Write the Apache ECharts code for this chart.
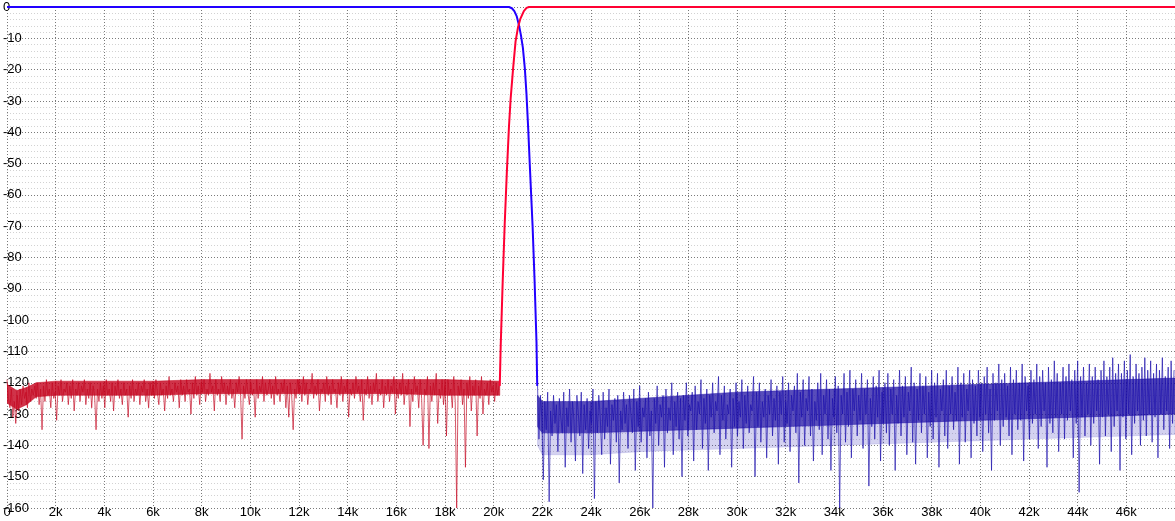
<!DOCTYPE html>
<html>
<head>
<meta charset="utf-8">
<script src="https://cdn.jsdelivr.net/npm/echarts@6/dist/echarts.min.js"></script>
<style>
html,body{margin:0;padding:0;background:#fff;}
#chart{width:1175px;height:521px;}
</style>
</head>
<body>
<div id="chart"></div>
<script>
// ---- axis ----
const xMin = 0, xMax = 48000, xStep = 2000;
const yMin = -160, yMax = 0, yStep = 10;
const kiloSuffix = 'k';

// ---- low-pass (blue) passband + transition: [Hz, dB] ----
const blueFreq = [0, 20630, 20750, 20850, 20950, 21040, 21120, 21200, 21280, 21350, 21420, 21500, 21600, 21680, 21760, 21790];
const blueDb   = [0, 0, -0.4, -1.3, -3, -5.8, -9, -13, -19.5, -28, -39, -53, -70, -87, -107, -121];

// ---- high-pass (red) transition + passband: [Hz, dB] ----
const redFreq = [20250, 20290, 20370, 20450, 20540, 20630, 20700, 20800, 20900, 21000, 21100, 21240, 21350, 21450, 48000];
const redDb   = [-121, -108, -88, -70, -53, -38, -29, -19.5, -11, -6.5, -3.7, -1.3, -0.3, 0, 0];

// ---- dense core of each noise floor (envelopes) ----
const redBandFreq  = [0, 400, 800, 1200, 2000, 4000, 6000, 8000, 10000, 12000, 14000, 16000, 18000, 20250];
const redBandTop   = [-120.5, -122.5, -121.5, -120, -119.5, -119.5, -119.5, -119, -119, -119, -119, -119, -119, -119.5];
const redBandBot   = [-126.5, -128.5, -127, -124.5, -124, -124, -124, -123.5, -123.5, -123.5, -123.5, -123.5, -124, -124];

const blueBandFreq  = [21800, 22000, 24000, 26000, 28000, 30000, 32000, 34000, 36000, 38000, 40000, 42000, 44000, 46000, 48000];
const blueBandTop   = [-124, -126, -126, -125, -124, -123, -122.5, -122, -121.5, -121, -120.5, -120, -119.5, -119, -118.5];
const blueBandBot   = [-134, -136, -136, -135.5, -135, -134.5, -134, -133.5, -133, -132.5, -132, -131.5, -131, -130.5, -130];
// lighter spike-filled zone below the blue core
const blueFringeBot = [-140, -143, -143, -142, -141.5, -141, -140.5, -140, -139.5, -139, -138.5, -138, -137.5, -137, -136.5];

const noiseStep = 60;
const redNoiseStart = 0;
const redNoiseDb = [
-119,-125,-128,-122,-131,-126,-133,-124,-129,-122,-127,-121,-125,-123,-128,-120,-126,-122,-124,-121,
-125,-120,-127,-122,-135,-121,-126,-119,-124,-122,-128,-120,-125,-123,-132,-121,-124,-119,-126,-122,
-123,-120,-127,-121,-125,-119,-129,-122,-124,-120,-126,-121,-123,-119,-127,-122,-125,-120,-128,-121,
-124,-135,-122,-126,-120,-125,-121,-128,-119,-124,-122,-126,-120,-129,-121,-124,-119,-125,-122,-127,
-120,-124,-122,-131,-121,-125,-119,-126,-122,-124,-120,-127,-121,-123,-119,-126,-122,-128,-120,-124,
-121,-125,-119,-123,-127,-120,-124,-122,-129,-121,-125,-118,-124,-122,-126,-120,-123,-121,-128,-119,
-124,-121,-126,-119,-123,-122,-130,-120,-125,-118,-124,-121,-127,-120,-123,-119,-126,-122,-124,-117,
-123,-121,-129,-119,-124,-122,-126,-118,-123,-120,-127,-121,-124,-119,-125,-122,-128,-120,-123,-118,
-124,-138,-121,-125,-119,-123,-127,-120,-124,-122,-131,-119,-125,-121,-123,-118,-126,-120,-124,-122,
-119,-125,-121,-127,-118,-124,-122,-126,-120,-123,-119,-128,-121,-131,-120,-124,-135,-122,-125,-119,
-123,-121,-126,-118,-124,-120,-127,-122,-123,-117,-125,-121,-124,-119,-129,-122,-123,-120,-126,-118,
-124,-121,-127,-119,-123,-122,-128,-120,-124,-118,-126,-121,-123,-119,-131,-122,-124,-120,-125,-118,
-123,-121,-126,-119,-132,-122,-124,-118,-125,-121,-127,-120,-123,-117,-126,-122,-124,-119,-128,-121,
-124,-119,-126,-121,-123,-118,-130,-122,-125,-120,-124,-117,-127,-121,-124,-119,-134,-122,-126,-118,
-123,-121,-128,-119,-125,-140,-122,-124,-118,-141,-121,-126,-120,-124,-117,-133,-122,-125,-119,-127,
-121,-137,-119,-124,-122,-128,-118,-126,-160,-121,-124,-119,-127,-122,-147,-120,-125,-118,-129,-121,
-124,-119,-137,-121,-125,-118,-130,-122,-124,-120,-127,-119,-123,-121,-126,-120,-124,-121
];
const blueNoiseStart = 21800;
const blueNoiseDb = [
-120,-138,-124,-131,-151,-126,-135,-123,-158,-129,-137,-124,-133,-127,-142,-125,-131,-136,-123,-147,
-128,-134,-122,-139,-126,-132,-145,-124,-130,-137,-123,-149,-127,-135,-125,-141,-129,-133,-122,-157,
-126,-136,-124,-131,-143,-123,-138,-128,-134,-122,-146,-127,-132,-125,-139,-124,-152,-129,-135,-123,
-133,-127,-141,-124,-130,-136,-122,-148,-126,-134,-121,-139,-128,-131,-125,-144,-123,-137,-129,-160,
-125,-133,-121,-140,-127,-131,-124,-147,-122,-136,-128,-132,-120,-143,-126,-134,-123,-138,-125,-150,
-124,-132,-120,-137,-127,-129,-123,-145,-121,-135,-126,-130,-119,-141,-125,-133,-122,-148,-124,-131,
-120,-136,-126,-129,-118,-143,-124,-132,-121,-138,-127,-130,-122,-147,-125,-134,-120,-137,-126,-131,
-119,-141,-124,-133,-121,-136,-127,-129,-118,-150,-123,-134,-120,-139,-126,-131,-122,-144,-124,-130,
-119,-137,-125,-132,-121,-146,-123,-130,-118,-139,-126,-133,-120,-142,-124,-129,-121,-136,-117,-152,
-123,-131,-119,-140,-125,-129,-118,-137,-122,-145,-126,-132,-120,-135,-117,-143,-124,-130,-119,-138,
-122,-148,-125,-131,-118,-136,-121,-160,-124,-130,-117,-139,-123,-134,-116,-144,-122,-129,-119,-137,
-124,-132,-117,-141,-122,-130,-119,-153,-125,-134,-118,-138,-121,-131,-116,-145,-123,-133,-120,-136,
-117,-140,-122,-130,-119,-148,-124,-133,-116,-137,-121,-131,-118,-143,-123,-129,-115,-139,-120,-146,
-122,-132,-117,-136,-121,-130,-118,-144,-123,-134,-116,-138,-120,-131,-117,-147,-122,-129,-119,-137,
-116,-141,-121,-130,-118,-135,-123,-132,-115,-146,-120,-131,-117,-139,-122,-129,-116,-144,-119,-133,
-121,-137,-116,-131,-120,-142,-118,-130,-115,-136,-122,-148,-117,-132,-120,-129,-114,-140,-119,-134,
-117,-131,-121,-137,-115,-143,-119,-130,-116,-135,-120,-132,-114,-145,-118,-129,-121,-138,-116,-133,
-119,-130,-114,-141,-118,-134,-116,-129,-120,-147,-115,-133,-119,-136,-113,-131,-117,-142,-120,-130,
-115,-138,-118,-132,-114,-129,-119,-144,-116,-133,-113,-155,-118,-131,-115,-137,-120,-130,-114,-140,
-118,-133,-115,-129,-119,-146,-116,-131,-113,-137,-118,-130,-115,-142,-112,-134,-117,-129,-114,-148,
-117,-131,-113,-138,-116,-130,-111,-143,-118,-133,-114,-129,-117,-140,-115,-132,-112,-137,-116,-130,
-113,-139,-117,-131,-114,-144,-116,-130,-112,-135,-118,-129,-115,-141,-113,-133,-116
];

const pair = (xs, ys) => xs.map((x, i) => [x, ys[i]]);
const grid = (start, vals) => vals.map((v, i) => [start + i * noiseStep, v]);

// band drawn as quads between consecutive envelope samples, positioned via the axes
const bandSeries = (freq, top, bot, color, z) => ({
  type: 'custom', z: z, silent: true, clip: true,
  data: freq.slice(0, -1).map((f, i) => [f, freq[i + 1], top[i], top[i + 1], bot[i], bot[i + 1]]),
  encode: {x: [0, 1], y: [2, 3, 4, 5]},
  renderItem: (params, api) => {
    const f0 = api.value(0), f1 = api.value(1);
    const p = [
      api.coord([f0, api.value(2)]), api.coord([f1, api.value(3)]),
      api.coord([f1, api.value(5)]), api.coord([f0, api.value(4)])
    ];
    return {type: 'polygon', shape: {points: p}, style: {fill: color, stroke: color, lineWidth: 0.6}};
  }
});

const font = '"Liberation Sans", Arial, sans-serif';
const chart = echarts.init(document.getElementById('chart'), null, {renderer: 'canvas'});
chart.setOption({
  animation: false,
  backgroundColor: '#ffffff',
  grid: {left: 0, right: 0, top: 7, bottom: 13, containLabel: false},
  xAxis: {
    type: 'value', min: xMin, max: xMax, interval: xStep,
    axisLine: {show: false}, axisTick: {show: false},
    axisLabel: {
      color: '#000', fontFamily: font, fontSize: 13, margin: -2,
      showMaxLabel: false,
      formatter: v => v === 0 ? '0' : (v / 1000) + kiloSuffix
    },
    splitLine: {show: true, lineStyle: {color: '#7a7a7a', width: 1, type: [1, 2]}}
  },
  yAxis: {
    type: 'value', min: yMin, max: yMax, interval: yStep,
    axisLine: {show: false}, axisTick: {show: false},
    axisLabel: {inside: true, color: '#000', fontFamily: font, fontSize: 13, margin: -4},
    splitLine: {show: true, lineStyle: {color: '#7a7a7a', width: 1, type: [1, 2]}},
    minorTick: {show: false, splitNumber: 5},
    minorSplitLine: {show: true, lineStyle: {color: '#d2d2d2', width: 1, type: [1, 2]}}
  },
  series: [
    bandSeries(blueBandFreq, blueBandBot, blueFringeBot, 'rgba(40,30,180,0.2)', 1),
    bandSeries(redBandFreq, redBandTop, redBandBot, 'rgba(196,0,28,0.8)', 1),
    bandSeries(blueBandFreq, blueBandTop, blueBandBot, 'rgba(24,8,160,0.72)', 1),
    {type: 'line', data: grid(redNoiseStart, redNoiseDb), showSymbol: false, symbol: 'none',
     sampling: null, lineStyle: {color: 'rgba(196,10,36,0.68)', width: 1}, z: 2},
    {type: 'line', data: grid(blueNoiseStart, blueNoiseDb), showSymbol: false, symbol: 'none',
     sampling: null, lineStyle: {color: 'rgba(28,16,172,0.68)', width: 1}, z: 2},
    {type: 'line', data: pair(blueFreq, blueDb), showSymbol: false, symbol: 'none',
     lineStyle: {color: '#2200ff', width: 2}, z: 3},
    {type: 'line', data: pair(redFreq, redDb), showSymbol: false, symbol: 'none',
     lineStyle: {color: '#ff0033', width: 2}, z: 4}
  ]
});
</script>
</body>
</html>
